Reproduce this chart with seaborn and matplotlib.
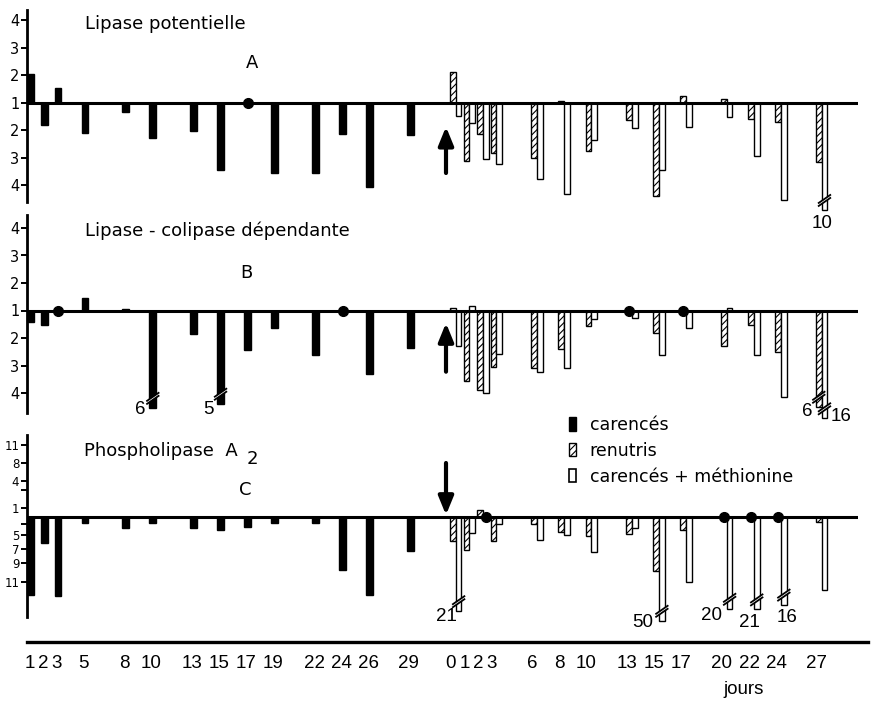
import matplotlib
matplotlib.use("Agg")
import numpy as np
import pandas as pd
import matplotlib.pyplot as plt
from matplotlib.patches import Patch, Polygon
import seaborn as sns

# ---------------- data (axis units relative to baseline "1") ----------------
days_p1 = [1, 2, 3, 5, 8, 10, 13, 15, 17, 19, 22, 24, 26, 29]
days_p2 = [0, 1, 2, 3, 6, 8, 10, 13, 15, 17, 20, 22, 24, 27]

A_carences = [1.04, -0.81, 0.55, -1.09, -0.33, -1.27, -1.02, -2.45, 0.0, -2.55, -2.55, -1.12, -3.05, -1.18]
A_renutris = [1.13, -2.12, -1.15, -1.82, -2.0, 0.08, -1.76, -0.63, -3.39, 0.24, 0.12, -0.61, -0.69, -2.16]
A_methionine = [-0.48, -0.75, -2.06, -2.24, -2.79, -3.33, -1.36, -0.91, -2.46, -0.88, -0.52, -1.92, -3.52, -3.9]

B_carences = [-0.41, -0.51, 0.0, 0.44, 0.07, -3.54, -0.85, -3.39, -1.45, -0.63, -1.6, 0.0, -2.3, -1.36]
B_renutris = [0.1, -2.58, -2.88, -2.07, -2.1, -1.39, -0.56, 0.0, -0.82, 0.0, -1.28, -0.52, -1.52, -3.5]
B_methionine = [-1.28, 0.18, -3.0, -1.59, -2.25, -2.1, -0.3, -0.28, -1.61, -0.62, 0.08, -1.61, -3.15, -3.92]

C_carences = [-13.05, -4.33, -13.2, -1.0, -1.78, -1.0, -1.78, -2.1, -1.67, -1.0, -0.94, -8.9, -13.05, -5.72]
C_renutris = [-4.0, -5.5, 1.1, -4.0, -1.1, -2.5, -3.2, -2.9, -9.0, -2.1, 0.0, 0.0, 0.0, -0.9]
C_methionine = [-15.7, -2.6, 0.0, -1.2, -3.8, -3.0, -5.9, -1.9, -17.3, -10.9, -15.3, -15.4, -14.6, -12.1]

series_keys = ["carences", "renutris", "methionine"]
series_labels = ["carencés", "renutris", "carencés + méthionine"]
series_phase = {"carences": 1, "renutris": 2, "methionine": 2}

panel_titles = ["Lipase potentielle", "Lipase - colipase dépendante", "Phospholipase  A"]
panel_letters = ["A", "B", "C"]
AB_yticklabels = ["4", "3", "2", "1", "2", "3", "4"]
C_yticklabels = ["11", "8", "4", "1", "5", "7", "9", "11"]

# truncated bars (value written next to the break)
break_panel = ["A", "B", "B", "B", "B", "C", "C", "C", "C", "C"]
break_series = ["methionine", "carences", "carences", "renutris", "methionine",
                "methionine", "methionine", "methionine", "methionine", "methionine"]
break_day = [27, 10, 15, 27, 27, 0, 15, 20, 22, 24]
break_label = ["10", "6", "5", "6", "16", "21", "50", "20", "21", "16"]

x_label = "jours"

# ---------------- layout / style ----------------
sns.set_style("white")
plt.rcParams["font.family"] = ["DejaVu Sans"]
plt.rcParams["text.color"] = "black"
plt.rcParams["hatch.linewidth"] = 0.8
NUMFONT = ["Liberation Sans", "DejaVu Sans"]

W, H = 879, 701
fig = plt.figure(figsize=(W / 100, H / 100), dpi=100)
fig.patch.set_facecolor("white")

PX_PER_DAY = 13.55
X1_PX = 29.5
P2_SHIFT = 32.1
LEFT_PX, RIGHT_PX, AXIS_RIGHT_PX = 27, 858, 868


def fx(px):
    return px / W


def fy(py):
    return 1 - py / H


series_style = {
    "carences": dict(color="black", hatch=None, offset=0.1, width=0.49),
    "renutris": dict(color="white", hatch="/////", offset=0.15, width=0.42),
    "methionine": dict(color="white", hatch=None, offset=0.57, width=0.42),
}
# panel geometry in pixels: top, bottom, baseline, px per unit
geom = {"A": (10, 202, 102.7, 27.5), "B": (215, 413, 310.5, 27.5), "C": (435, 616.7, 517, 6.0)}
label_offsets = [(-2.5, 14), (-13, 2), (-12.5, 6), (-12, 5), (17, -1.5),
                 (-12, 5.5), (-19, 2), (-18, 7), (-7, 13.5), (3, 13)]
C_tick_px = [445, 463, 481, 508, 535, 549, 563, 582]
C_minor_px = [490, 524]

panel_data = {
    "A": {"carences": A_carences, "renutris": A_renutris, "methionine": A_methionine},
    "B": {"carences": B_carences, "renutris": B_renutris, "methionine": B_methionine},
    "C": {"carences": C_carences, "renutris": C_renutris, "methionine": C_methionine},
}

rows = []
for p, d in panel_data.items():
    for s, vals in d.items():
        ph = series_phase[s]
        days = days_p1 if ph == 1 else days_p2
        for day, v in zip(days, vals):
            base = day if ph == 1 else P2_SHIFT + day
            rows.append(dict(panel=p, series=s, day=day, X=base + series_style[s]["offset"], value=v))
df = pd.DataFrame(rows)

xlim_panel = (1 - (X1_PX - LEFT_PX) / PX_PER_DAY, 1 + (RIGHT_PX - X1_PX) / PX_PER_DAY)

axes = {}
for i, p in enumerate(["A", "B", "C"]):
    top, bottom, base, ppu = geom[p]
    ax = fig.add_axes([fx(LEFT_PX), fy(bottom), (RIGHT_PX - LEFT_PX) / W, (bottom - top) / H])
    ax.set_facecolor("none")
    axes[p] = ax
    for s in series_keys:
        st = series_style[s]
        sub = df[(df.panel == p) & (df.series == s)]
        sns.barplot(data=sub, x="X", y="value", native_scale=True, orient="x",
                    width=st["width"], color=st["color"], saturation=1,
                    edgecolor="black", linewidth=1.0, hatch=st["hatch"],
                    errorbar=None, ax=ax, zorder=2)
        zeros = sub[sub.value == 0]
        ax.plot(zeros.X, zeros.value, "o", ms=7, color="black", zorder=5, clip_on=False)
    for patch in ax.patches:
        patch.set_clip_on(False)
    ax.axhline(0, color="black", lw=2.2, zorder=4)
    ax.set_xlim(*xlim_panel)
    ax.set_ylim(-(bottom - base) / ppu, (base - top) / ppu)
    ax.set_xlabel("")
    ax.set_ylabel("")
    ax.set_xticks([])
    for sp in ["top", "right", "bottom"]:
        ax.spines[sp].set_visible(False)
    ax.spines["left"].set_linewidth(2)
    ax.spines["left"].set_color("black")
    if p in ("A", "B"):
        ax.set_yticks([3, 2, 1, 0, -1, -2, -3], AB_yticklabels)
        ax.tick_params(axis="y", direction="out", length=4, width=1.4, labelsize=10.5,
                       pad=1.5, left=True, colors="black")
    else:
        ax.set_yticks([(base - t) / ppu for t in C_tick_px], C_yticklabels)
        ax.set_yticks([(base - t) / ppu for t in C_minor_px], minor=True)
        ax.tick_params(axis="y", which="major", direction="out", length=4, width=1.4,
                       labelsize=8.5, pad=1.5, left=True, colors="black")
        ax.tick_params(axis="y", which="minor", direction="out", length=4, width=1.4,
                       left=True, colors="black")

# truncated bars: break marks + written values
for (p, s, day, lab, (dxp, dyp)) in zip(break_panel, break_series, break_day, break_label, label_offsets):
    ax = axes[p]
    top, bottom, base, ppu = geom[p]
    row = df[(df.panel == p) & (df.series == s) & (df.day == day)].iloc[0]
    xc, v = row.X, row.value
    ux, uy = 1 / PX_PER_DAY, 1 / ppu
    yc = v + 8 * uy
    hw = 6.5 * ux
    rise = 4.5 * uy
    gap = 3.0 * uy
    poly = Polygon([(xc - hw, yc - rise), (xc + hw, yc + rise),
                    (xc + hw, yc + rise + gap), (xc - hw, yc - rise + gap)],
                   closed=True, facecolor="white", edgecolor="none", zorder=6, clip_on=False)
    ax.add_patch(poly)
    for g in (0, gap):
        ax.plot([xc - hw, xc + hw], [yc - rise + g, yc + rise + g], color="black",
                lw=1.3, zorder=7, clip_on=False, solid_capstyle="butt")
    ax.annotate(lab, xy=(xc, v), xytext=(dxp, -dyp), textcoords="offset pixels",
                ha="center", va="center", fontsize=13.5, family=NUMFONT, color="black",
                annotation_clip=False)

# arrows marking the start of the second phase
arrow_x = 1 + (446 - X1_PX) / PX_PER_DAY
arrow_props = dict(arrowstyle="-|>,head_length=1.1,head_width=0.45", lw=3.0, color="black",
                   shrinkA=0, shrinkB=0, mutation_scale=10)
axes["A"].annotate("", xy=(arrow_x, (102.7 - 126.7) / 27.5), xytext=(arrow_x, (102.7 - 173) / 27.5),
                   arrowprops=arrow_props, annotation_clip=False)
axes["B"].annotate("", xy=(arrow_x, (310.5 - 323) / 27.5), xytext=(arrow_x, (310.5 - 371.7) / 27.5),
                   arrowprops=arrow_props, annotation_clip=False)
axes["C"].annotate("", xy=(arrow_x, (517 - 515) / 6.0), xytext=(arrow_x, (517 - 463) / 6.0),
                   arrowprops=arrow_props, annotation_clip=False)

# panel titles
title_fs = 13
tk = dict(fontsize=title_fs, va="center", color="black")
fig.text(fx(85), fy(24), panel_titles[0], ha="left", **tk)
fig.text(fx(252), fy(63), panel_letters[0], ha="center", **tk)
fig.text(fx(85), fy(231), panel_titles[1], ha="left", **tk)
fig.text(fx(246), fy(273), panel_letters[1], ha="center", **tk)
fig.text(fx(84), fy(451.5), panel_titles[2], ha="left", **tk)
fig.text(fx(247), fy(459), "2", ha="left", **tk)
fig.text(fx(245), fy(490), panel_letters[2], ha="center", **tk)

# common time axis
axb = fig.add_axes([fx(LEFT_PX), fy(642), (AXIS_RIGHT_PX - LEFT_PX) / W, 1 / H])
axb.set_facecolor("none")
axb.set_xlim(xlim_panel[0], 1 + (AXIS_RIGHT_PX - X1_PX) / PX_PER_DAY)
for sp in ["top", "right", "left"]:
    axb.spines[sp].set_visible(False)
axb.spines["bottom"].set_linewidth(2.4)
axb.spines["bottom"].set_color("black")
tick_pos = list(days_p1) + [P2_SHIFT + d for d in days_p2]
tick_lab = [str(d) for d in days_p1] + [str(d) for d in days_p2]
axb.set_xticks(tick_pos, tick_lab)
axb.set_yticks([])
axb.tick_params(axis="x", direction="out", length=6, width=1.8, labelsize=13.5, pad=3, colors="black")
for t in axb.get_xticklabels():
    t.set_family(NUMFONT)
fig.text(fx(744), fy(689), x_label, fontsize=13.5, ha="center", va="center", family=NUMFONT,
         color="black")

# legend
handles = [Patch(facecolor="black", edgecolor="black", lw=1.0),
           Patch(facecolor="white", edgecolor="black", hatch="/////", lw=1.0),
           Patch(facecolor="white", edgecolor="black", lw=1.2)]
leg = fig.legend(handles, series_labels, loc="upper left", bbox_to_anchor=(fx(569), fy(416)),
                 frameon=False, handlelength=0.4, handleheight=0.8, handletextpad=0.8,
                 labelspacing=0.45, fontsize=12.5, borderpad=0, borderaxespad=0)
for t in leg.get_texts():
    t.set_color("black")

fig.savefig("out.png", dpi=100, facecolor="white")
